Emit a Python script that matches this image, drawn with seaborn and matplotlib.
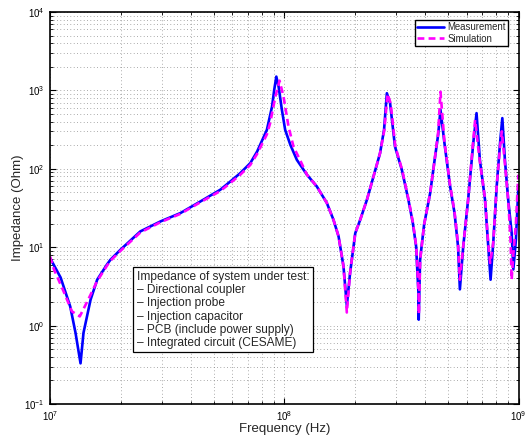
import numpy as np
import pandas as pd
import matplotlib
matplotlib.use("Agg")
import matplotlib.pyplot as plt
import seaborn as sns
from matplotlib.ticker import LogLocator, NullFormatter

# ---- data (frequency in MHz, impedance in Ohm) ----
meas_f_mhz = [10.0, 11.1, 12.2, 12.85, 13.5, 13.9, 14.9, 15.9, 17.5, 18.1, 20.0, 24.3,
              29.6, 36.0, 43.9, 53.3, 58.9, 64.9, 71.6, 76.6, 84.3, 88.7, 90.6, 92.5,
              94.6, 97.7, 100.9, 106.2, 113.2, 125.0, 137.7, 152.0, 162.2, 170.6, 179.0,
              185.0, 191.0, 201.0, 211.0, 225.4, 240.4, 256.4, 266.7, 274.2, 283.0, 297.0,
              317.7, 338.8, 354.0, 365.6, 374.0, 375.0, 380.0, 395.4, 419.8, 438.5, 453.9,
              464.5, 483.0, 510.5, 533.3, 552.0, 562.0, 580.8, 609.5, 641.0, 662.0, 684.0,
              719.5, 743.0, 760.0, 780.0, 807.0, 834.0, 853.0, 875.0, 903.6, 935.0, 950.6,
              975.0, 997.7]
meas_z = [7.3, 4.1, 1.75, 0.81, 0.33, 0.81, 2.14, 3.85, 6.0, 6.9, 9.3, 15.9,
          21.3, 27.2, 38.4, 54.0, 69.0, 88.0, 118.0, 166.0, 314.0, 622.0, 1014.0, 1500.0,
          1120.0, 565.0, 314.0, 202.0, 130.0, 84.0, 59.6, 36.6, 22.4, 13.7, 5.7,
          1.8, 4.7, 15.1, 22.4, 40.3, 79.8, 158.0, 314.0, 920.0, 687.0, 192.0,
          97.0, 40.3, 20.3, 10.2, 2.6, 1.19, 6.9, 19.4, 49.4, 130.0, 271.0,
          565.0, 212.0, 59.6, 27.2, 10.2, 2.9, 10.2, 40.3, 212.0, 513.0, 130.0,
          40.3, 10.2, 3.85, 11.3, 59.6, 212.0, 443.0, 130.0, 40.3, 15.2, 5.2,
          12.5, 54.0]

sim_f_mhz = [10.0, 10.4, 11.45, 12.4, 13.4, 14.55, 15.9, 17.5, 18.1, 20.0, 24.3, 29.6,
             36.0, 43.9, 53.3, 58.9, 64.9, 71.6, 76.6, 84.3, 87.0, 91.6, 95.5, 99.3,
             104.3, 109.6, 117.0, 125.0, 137.7, 152.0, 162.2, 170.6, 179.0, 185.0, 191.0,
             201.0, 211.0, 225.4, 240.4, 256.4, 267.5, 276.0, 284.5, 298.0, 318.5, 339.5,
             354.5, 366.0, 374.5, 375.5, 380.5, 395.4, 419.8, 438.5, 453.9, 464.5, 483.0,
             510.5, 533.3, 552.0, 562.0, 580.8, 609.5, 638.0, 653.0, 680.0, 719.5, 743.0,
             757.0, 780.0, 807.0, 834.0, 849.0, 872.0, 903.6, 925.0, 935.0, 950.0, 975.0,
             997.7]
sim_z = [7.6, 5.2, 2.7, 1.52, 1.31, 2.14, 3.7, 5.8, 6.7, 9.0, 15.4, 20.8,
         26.6, 37.5, 52.0, 66.0, 84.0, 112.0, 155.0, 275.0, 380.0, 830.0, 1330.0, 830.0,
         345.0, 190.0, 128.0, 84.0, 59.6, 36.6, 22.4, 13.7, 5.7, 1.47, 4.7,
         15.1, 22.4, 40.3, 79.8, 158.0, 314.0, 900.0, 687.0, 192.0, 97.0, 40.3,
         20.3, 10.2, 2.6, 1.4, 6.9, 19.4, 49.4, 130.0, 290.0, 960.0, 220.0,
         62.0, 28.0, 11.0, 3.85, 10.2, 40.3, 200.0, 420.0, 140.0, 42.0, 11.0,
         6.3, 11.3, 59.6, 190.0, 300.0, 130.0, 40.3, 12.0, 3.85, 8.0, 20.0,
         84.0]

series_names = ["Measurement", "Simulation"]
x_label = "Frequency (Hz)"
y_label = "Impedance (Ohm)"
note_lines = ["Impedance of system under test:",
              "\u2013 Directional coupler",
              "\u2013 Injection probe",
              "\u2013 Injection capacitor",
              "\u2013 PCB (include power supply)",
              "\u2013 Integrated circuit (CESAME)"]

meas_df = pd.DataFrame({"freq": np.array(meas_f_mhz) * 1e6, "Z": meas_z})
sim_df = pd.DataFrame({"freq": np.array(sim_f_mhz) * 1e6, "Z": sim_z})

# ---- style ----
sns.set_style("ticks")
plt.rcParams['font.family'] = ['Liberation Sans', 'DejaVu Sans']
plt.rcParams['mathtext.fontset'] = 'custom'
plt.rcParams['mathtext.rm'] = 'Liberation Sans'
plt.rcParams['mathtext.it'] = 'Liberation Sans'

fig = plt.figure(figsize=(5.28, 4.36), dpi=100)
ax = fig.add_axes([50 / 528, 1 - 404 / 436, 468.5 / 528, 392 / 436])

sns.lineplot(data=meas_df, x="freq", y="Z", ax=ax, color="#0000ff", lw=1.9,
             sort=False, estimator=None, label=series_names[0])
sns.lineplot(data=sim_df, x="freq", y="Z", ax=ax, color="#ff00ff", lw=1.9,
             sort=False, estimator=None, label=series_names[1], dashes=False)
ax.lines[1].set_dashes([2.6, 1.6])

ax.set_xscale("log")
ax.set_yscale("log")
ax.set_xlim(1e7, 1e9)
ax.set_ylim(1e-1, 1e4)

for axis in (ax.xaxis, ax.yaxis):
    axis.set_major_locator(LogLocator(base=10, numticks=20))
    axis.set_minor_locator(LogLocator(base=10, subs=np.arange(2, 10), numticks=100))
    axis.set_minor_formatter(NullFormatter())

ax.grid(True, which="both", linestyle=(0, (0.8, 3.2)), color="0.45", lw=0.6)
ax.tick_params(which="both", direction="in", top=True, right=True, colors="black",
               labelsize=7)
ax.tick_params(which="major", length=4, width=0.8)
ax.tick_params(axis="x", which="major", pad=4)
ax.tick_params(axis="y", which="major", pad=4)
ax.tick_params(which="minor", length=2, width=0.6)
for s in ax.spines.values():
    s.set_color("black")
    s.set_linewidth(1.2)

ax.set_xlabel(x_label, fontsize=9.5, labelpad=0)
ax.set_ylabel(y_label, fontsize=9.5, labelpad=0)

leg = ax.legend(loc="upper right", bbox_to_anchor=(508 / 528, 1 - 20 / 436),
                bbox_transform=fig.transFigure, frameon=True, fancybox=False,
                edgecolor="black", fontsize=6.9, handlelength=2.8, borderpad=0.25,
                labelspacing=0.15, handletextpad=0.3, borderaxespad=0)
leg.get_frame().set_linewidth(1.0)
leg.get_frame().set_alpha(1)

fig.text(137 / 528, 1 - 271 / 436, "\n".join(note_lines), fontsize=8.6,
         va="top", ha="left", linespacing=1.13,
         bbox=dict(boxstyle="square,pad=0.3", fc="white", ec="black", lw=0.9))

fig.savefig("out.png", dpi=100)
